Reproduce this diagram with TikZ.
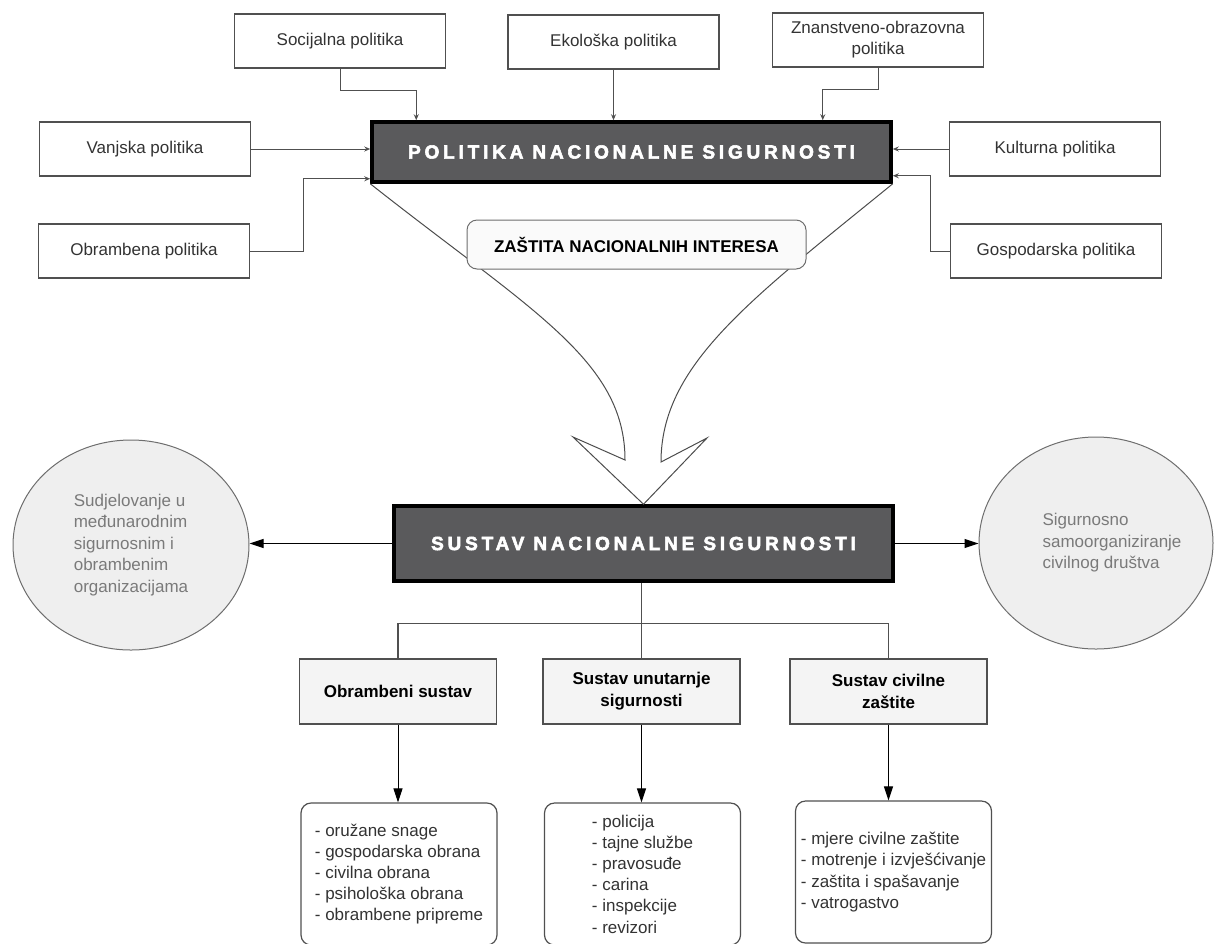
\documentclass[tikz,border=0pt]{standalone}
\usepackage{fontspec}
\setmainfont{Liberation Sans}
\newfontfamily\headfont[LetterSpace=20,FakeBold=3]{Liberation Sans Bold}
\usepackage{tikz}
\usetikzlibrary{shapes}
\usetikzlibrary{arrows.meta}
\definecolor{boxgray}{HTML}{5A5A5C}
\definecolor{linegray}{HTML}{505050}
\definecolor{txtgray}{HTML}{333333}
\definecolor{ellgray}{HTML}{EFEFEF}
\definecolor{ellline}{HTML}{6E6E6E}
\definecolor{elltxt}{HTML}{7A7A7A}
\definecolor{subgray}{HTML}{F4F4F4}
\tikzset{
    polbox/.style = {rectangle, draw=linegray, line width=1.2pt, fill=white, minimum width=211pt, minimum height=54pt, align=center, text=txtgray, font=\fontsize{17}{21}\selectfont},
    mainbox/.style = {rectangle, draw=black, line width=3.5pt, fill=boxgray, text=white, font=\headfont\fontsize{19}{22}\selectfont},
    goalbox/.style = {rectangle, rounded corners=10pt, draw=ellline, line width=1pt, fill=black!2, font=\bfseries\fontsize{17}{21}\selectfont, minimum width=339pt, minimum height=49pt},
    sidenode/.style = {ellipse, draw=ellline, line width=1pt, fill=ellgray, inner sep=0pt},
    sidetext/.style = {text=elltxt, align=left, font=\fontsize{17}{21.5}\selectfont},
    subbox/.style = {rectangle, draw=linegray, line width=1.2pt, fill=subgray, align=center, font=\bfseries\fontsize{17}{22}\selectfont, minimum width=197pt, minimum height=65pt},
    listbox/.style = {rectangle, rounded corners=10pt, draw=linegray, line width=1.2pt, fill=white, align=left, text=txtgray, font=\fontsize{17}{21.2}\selectfont, minimum width=196pt, minimum height=142pt},
    feed/.style = {-{Stealth[length=6pt,width=5pt]}, linegray, line width=1pt},
    edgen/.style = {-{Triangle[length=14pt,width=9pt]}, black, line width=1pt},
    bus/.style = {linegray, line width=1.2pt},
    funnel/.style = {draw=black!70, line width=1pt, line join=miter}
}

\begin{document}
\begin{tikzpicture}[x=1pt,y=-1pt]
  \useasboundingbox (0,0) rectangle (1214,943);
  \clip (0,0) rectangle (1214,943);

  % policies
  \node[polbox] at (340,41) (soc) {Socijalna politika};
  \node[polbox] at (613.5,42) (eko) {Ekološka politika};
  \node[polbox] at (878,40) (znan) {Znanstveno-obrazovna\\politika};
  \node[polbox] at (145,149) (vanj) {Vanjska politika};
  \node[polbox] at (144,251) (obrp) {Obrambena politika};
  \node[polbox] at (1055,149) (kult) {Kulturna politika};
  \node[polbox] at (1056,251) (gosp) {Gospodarska politika};

  \node[mainbox, minimum width=519pt, minimum height=60pt] at (631.5,152) (pol) {POLITIKA NACIONALNE SIGURNOSTI};
  \node[mainbox, minimum width=499pt, minimum height=75pt] at (643.5,543.5) (sus) {SUSTAV NACIONALNE SIGURNOSTI};

  \draw[feed] (soc.south) -- ++(0,22) -| ([xshift=46pt]pol.north west);
  \draw[feed] (eko.south) -- (eko.south |- pol.north);
  \draw[feed] (znan.south) -- ++(0,22) -| ([xshift=-70pt]pol.north east);
  \draw[feed] (vanj.east) -- (vanj.east -| pol.west);
  \draw[feed] (obrp.east) -- ++(53,0) |- ([yshift=5pt]pol.south west);
  \draw[feed] (kult.west) -- (kult.west -| pol.east);
  \draw[feed] (gosp.west) -- ++(-19,0) |- ([yshift=8pt]pol.south east);

  % big arrow
  \draw[funnel] (pol.south west) .. controls (530,310) and (625,360) .. (625,460)
    -- (573,437) -- (sus.north) -- (707,438) -- (661,462)
    .. controls (661,365) and (750,300) .. (pol.south east);
  \node[goalbox] at (636.5,244.5) (zast) {ZAŠTITA NACIONALNIH INTERESA};

  % sides
  \node[sidenode, minimum width=236pt, minimum height=210pt] at (131,545) (lsud) {};
  \node[sidetext] at (131,545) (lsudtxt) {Sudjelovanje u\\međunarodnim\\sigurnosnim i\\obrambenim\\organizacijama};
  \node[sidenode, minimum width=234pt, minimum height=212pt] at (1096,543) (rsig) {};
  \node[sidetext] at (1112,543) (rsigtxt) {Sigurnosno\\samoorganiziranje\\civilnog društva};
  \draw[edgen] (sus.west) -- (sus.west -| lsud.east);
  \draw[edgen] (sus.east) -- (sus.east -| rsig.west);

  % subsystems
  \node[subbox] at (398,691.5) (obs) {Obrambeni sustav};
  \node[subbox] at (641.5,691.5) (unut) {Sustav unutarnje\\sigurnosti};
  \node[subbox] at (888.5,691.5) (civ) {Sustav civilne\\zaštite};
  \draw[bus] (unut.north) -- (unut.north |- sus.south);
  \draw[bus] (obs.north) -- ++(0,-35) -| (civ.north);

  \node[listbox] at (399,874) (lobs) {- oružane snage\\- gospodarska obrana\\- civilna obrana\\- psihološka obrana\\- obrambene pripreme};
  \node[listbox] at (642.5,874) (lunut) {- policija\\- tajne službe\\- pravosuđe\\- carina\\- inspekcije\\- revizori};
  \node[listbox] at (893.5,872) (lciv) {- mjere civilne zaštite\\- motrenje i izvješćivanje\\- zaštita i spašavanje\\- vatrogastvo};

  \draw[edgen] (obs.south) -- (obs.south |- lobs.north);
  \draw[edgen] (unut.south) -- (unut.south |- lunut.north);
  \draw[edgen] (civ.south) -- (civ.south |- lciv.north);
\end{tikzpicture}
\end{document}
